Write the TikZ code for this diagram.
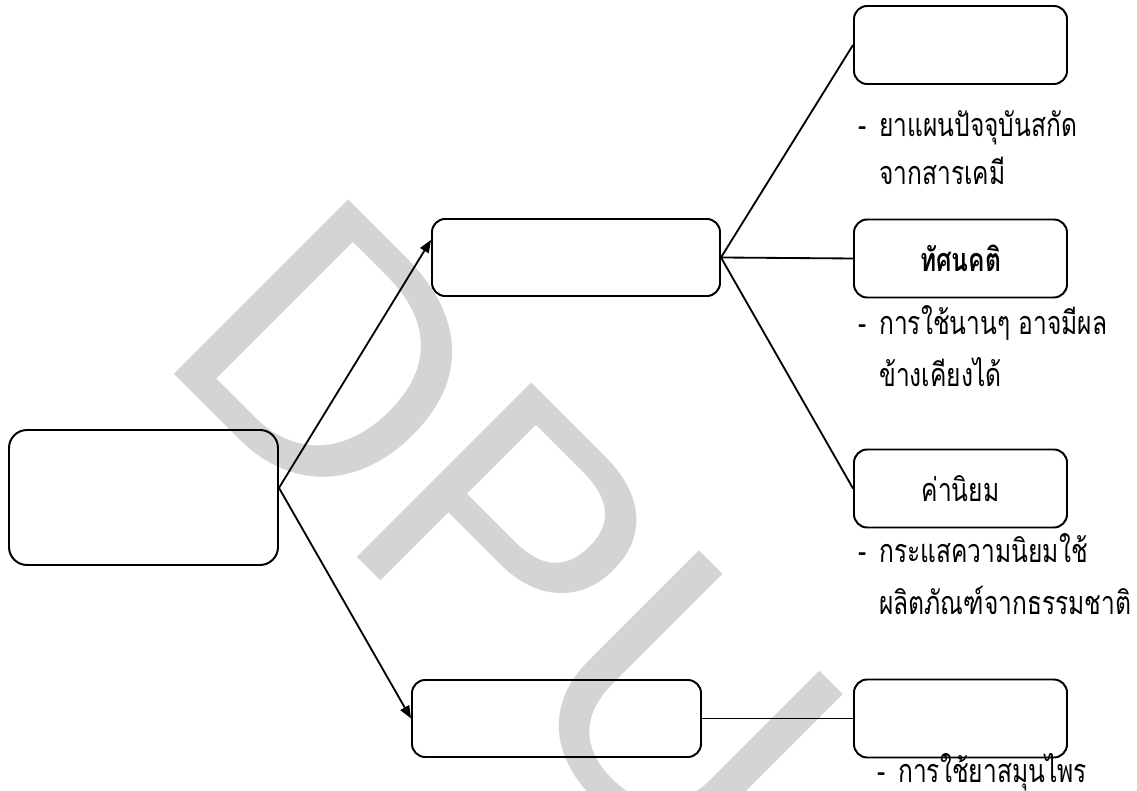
\documentclass[tikz,border=0pt]{standalone}
\usepackage{fontspec}
\usepackage{tikz,xcolor}
\usetikzlibrary{arrows.meta,positioning}
\newfontfamily\thaifont[Script=Thai,FakeStretch=0.76]{Loma}
\newfontfamily\wmfont{Liberation Sans}
\definecolor{wmgray}{RGB}{212,212,212}

\begin{document}
\begin{tikzpicture}[
  box/.style={draw=black, line width=1.4pt, rounded corners=0.33cm, inner sep=0pt,
    minimum width=5.325cm, minimum height=1.95cm, font=\thaifont\fontsize{23}{26}\selectfont},
  note/.style={anchor=base west, inner sep=0pt, font=\thaifont\fontsize{23}{26}\selectfont},
  link/.style={black, line width=1.3pt},
  tip/.style={-{Triangle[length=9pt,width=7pt]}}]
\useasboundingbox (0,0) rectangle (28.425,19.775);
\clip (0,0) rectangle (28.425,19.775);
% watermark
\node[anchor=base west, inner sep=0pt, rotate=-45, text=wmgray,
  font=\wmfont\fontsize{255}{255}\selectfont] (wm) at (3.83,10.945) {DPU};
% boxes
\node[box, minimum width=6.725cm, minimum height=3.375cm, rounded corners=0.45cm] (src) at (3.5875,7.3375) {};
\node[box, minimum width=7.2cm, minimum height=1.925cm] (modern) at (14.4,13.3375) {};
\node[box, minimum width=7.225cm, minimum height=1.925cm] (herb) at (13.9125,1.8125) {};
\node[box] (drug) at (24.0125,18.65) {};
\node[box] (attitude) at (24.0125,13.3125) {\bfseries ทัศนคติ};
\node[box] (value) at (24.0125,7.5625) {ค่านิยม};
\node[box] (herbuse) at (24.0125,1.8125) {};
% connectors
\draw[link, tip] ([yshift=0.24cm]src.east) -- ([yshift=0.44cm]modern.west);
\draw[link, tip] ([yshift=0.24cm]src.east) -- (herb.west);
\draw[link] (modern.east) -- (drug.west);
\draw[link] (modern.east) -- (attitude.west);
\draw[link] (modern.east) -- (value.west);
\draw[link] (herb.east) -- (herbuse.west);
% notes under the boxes
\node[note] (d1) at (21.45,16.35) {-};
\node[note] (t1) at (21.975,16.35) {ยาแผนปัจจุบันสกัด};
\node[note] (t1b) at (21.975,15.15) {จากสารเคมี};
\node[note] (d2) at (21.45,11.4) {-};
\node[note] (t2) at (21.975,11.4) {การใช้นานๆ อาจมีผล};
\node[note] (t2b) at (21.975,10.1) {ข้างเคียงได้};
\node[note] (d3) at (21.45,5.7) {-};
\node[note] (t3) at (21.975,5.7) {กระแสความนิยมใช้};
\node[note] (t3b) at (21.975,4.4) {ผลิตภัณฑ์จากธรรมชาติ};
\node[note] (d4) at (21.925,0.22) {-};
\node[note] (t4) at (22.45,0.22) {การใช้ยาสมุนไพร};
\end{tikzpicture}
\end{document}
